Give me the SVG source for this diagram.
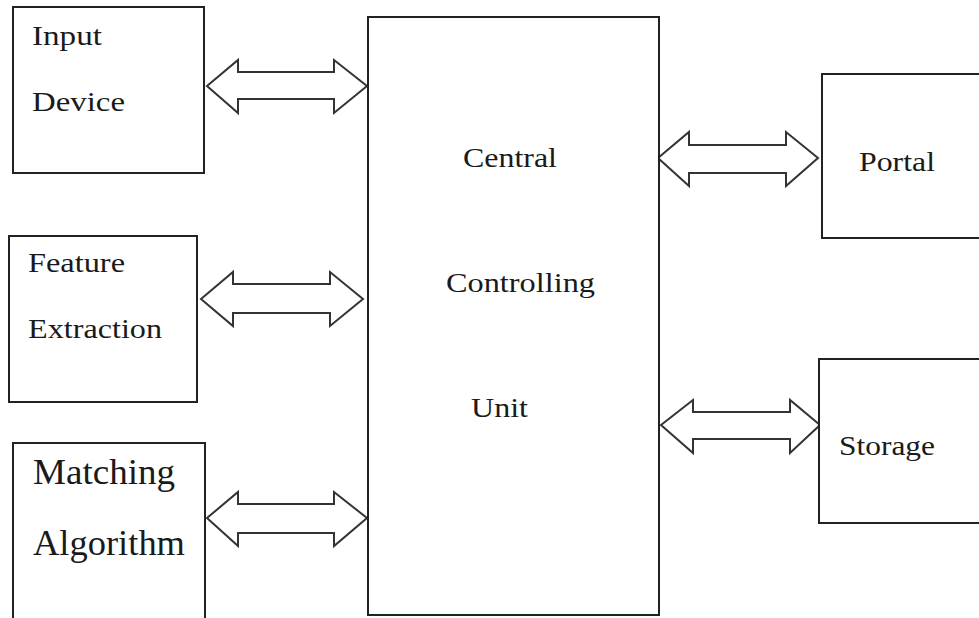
<svg xmlns="http://www.w3.org/2000/svg" width="979" height="618" viewBox="0 0 979 618">
<style>
.box{fill:#fff;stroke:#222;stroke-width:2}
.arr{fill:#fff;stroke:#333;stroke-width:2;stroke-linejoin:miter}
text{font-family:"Liberation Serif","Times New Roman",serif;font-size:28px;fill:#1a1a1a}
.big{font-size:35px}
</style>
<rect width="979" height="618" fill="#fff"/>
<g id="connectors">
<polygon class="arr" points="207,86 238,60 238,72 334,72 334,60 367,86 334,113 334,99 238,99 238,113"/>
<polygon class="arr" points="201,299 233,272 233,284 330,284 330,272 363,299 330,326 330,313 233,313 233,326"/>
<polygon class="arr" points="207,518 238,492 238,504 334,504 334,492 367,518 334,546 334,533 238,533 238,546"/>
<polygon class="arr" points="658,158 689,132 689,145 786,145 786,132 818,158 786,186 786,173 689,173 689,186"/>
<polygon class="arr" points="661,425 693,400 693,412 790,412 790,400 820,425 790,453 790,439 693,439 693,453"/>
</g>
<g id="input-device">
<rect class="box" x="13" y="7" width="191" height="166"/>
<text x="32" y="45" textLength="70" lengthAdjust="spacingAndGlyphs">Input</text>
<text x="32" y="111" textLength="93" lengthAdjust="spacingAndGlyphs">Device</text>
</g>
<g id="feature-extraction">
<rect class="box" x="9" y="236" width="188" height="166"/>
<text x="28" y="272" textLength="97" lengthAdjust="spacingAndGlyphs">Feature</text>
<text x="28" y="338" textLength="134" lengthAdjust="spacingAndGlyphs">Extraction</text>
</g>
<g id="matching-algorithm">
<rect class="box" x="13" y="443" width="192" height="185"/>
<text class="big" x="33" y="484" textLength="142" lengthAdjust="spacingAndGlyphs">Matching</text>
<text class="big" x="33" y="555" textLength="152" lengthAdjust="spacingAndGlyphs">Algorithm</text>
</g>
<g id="central-unit">
<rect class="box" x="368" y="17" width="291" height="598"/>
<text x="463" y="167" textLength="94" lengthAdjust="spacingAndGlyphs">Central</text>
<text x="446" y="292" textLength="149" lengthAdjust="spacingAndGlyphs">Controlling</text>
<text x="471" y="417" textLength="57" lengthAdjust="spacingAndGlyphs">Unit</text>
</g>
<g id="portal">
<rect class="box" x="822" y="74" width="170" height="164"/>
<text x="859" y="171" textLength="76" lengthAdjust="spacingAndGlyphs">Portal</text>
</g>
<g id="storage">
<rect class="box" x="819" y="359" width="170" height="164"/>
<text x="839" y="455" textLength="96" lengthAdjust="spacingAndGlyphs">Storage</text>
</g>
</svg>
